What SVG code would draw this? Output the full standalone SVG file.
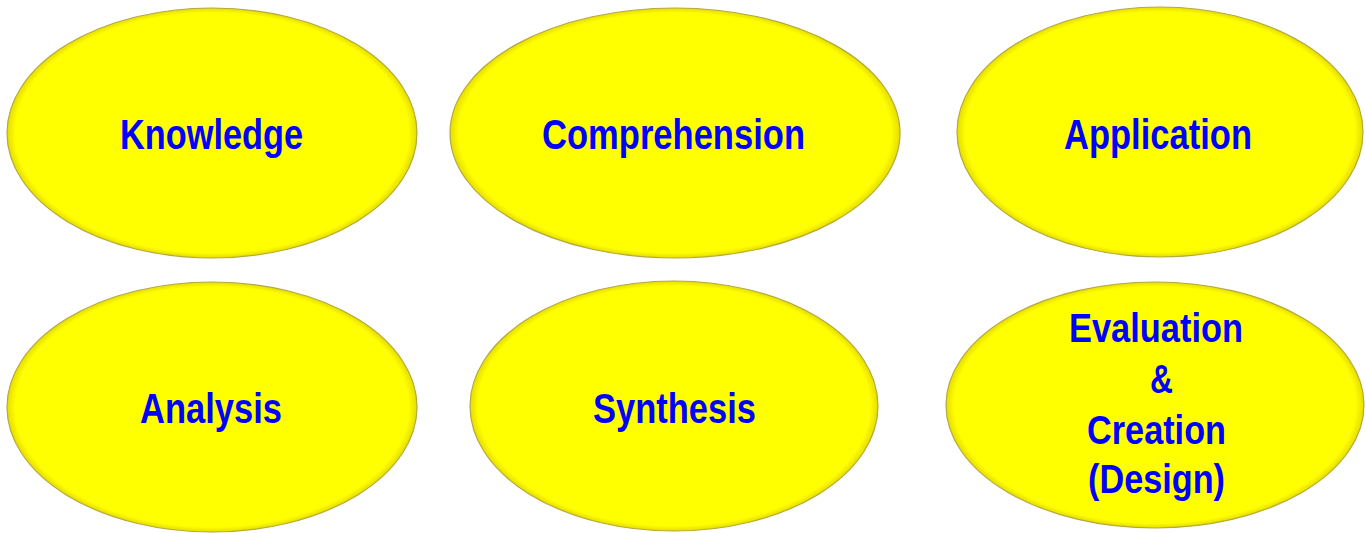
<svg xmlns="http://www.w3.org/2000/svg" width="1365" height="533" viewBox="0 0 1365 533">
  <style>
    .oval { fill: url(#yel); stroke: #b4aa3c; stroke-width: 1.2; }
    .lbl { font-family: "Liberation Sans", Arial, sans-serif; font-weight: bold; font-size: 43px; fill: #0000ff; }
    .lbl2 { font-family: "Liberation Sans", Arial, sans-serif; font-weight: bold; font-size: 41px; fill: #0000ff; }
  </style>
  <defs>
    <radialGradient id="yel" cx="0.5" cy="0.5" r="0.5">
      <stop offset="0" stop-color="#ffff00"/>
      <stop offset="0.96" stop-color="#ffff00"/>
      <stop offset="1" stop-color="#e6dc00"/>
    </radialGradient>
  </defs>
  <rect width="1365" height="533" fill="#ffffff"/>
  <g id="knowledge">
    <ellipse class="oval" cx="212" cy="133" rx="205" ry="125"/>
    <text class="lbl" x="120" y="149" textLength="183" lengthAdjust="spacingAndGlyphs">Knowledge</text>
  </g>
  <g id="comprehension">
    <ellipse class="oval" cx="675" cy="133" rx="225" ry="125"/>
    <text class="lbl" x="542" y="149" textLength="263" lengthAdjust="spacingAndGlyphs">Comprehension</text>
  </g>
  <g id="application">
    <ellipse class="oval" cx="1160" cy="132" rx="203" ry="125"/>
    <text class="lbl" x="1064" y="149" textLength="188" lengthAdjust="spacingAndGlyphs">Application</text>
  </g>
  <g id="analysis">
    <ellipse class="oval" cx="212" cy="407" rx="205" ry="125"/>
    <text class="lbl" x="140" y="423" textLength="142" lengthAdjust="spacingAndGlyphs">Analysis</text>
  </g>
  <g id="synthesis">
    <ellipse class="oval" cx="674" cy="406" rx="204" ry="125"/>
    <text class="lbl" x="593" y="423" textLength="163" lengthAdjust="spacingAndGlyphs">Synthesis</text>
  </g>
  <g id="evaluation">
    <ellipse class="oval" cx="1155" cy="405" rx="209" ry="123"/>
    <text class="lbl2" x="1069" y="342" textLength="174" lengthAdjust="spacingAndGlyphs">Evaluation</text>
    <text class="lbl2" x="1150" y="393" textLength="23" lengthAdjust="spacingAndGlyphs">&amp;</text>
    <text class="lbl2" x="1087" y="444" textLength="139" lengthAdjust="spacingAndGlyphs">Creation</text>
    <text class="lbl2" x="1088" y="493" textLength="137" lengthAdjust="spacingAndGlyphs">(Design)</text>
  </g>
  <g id="connectors"></g>
</svg>
